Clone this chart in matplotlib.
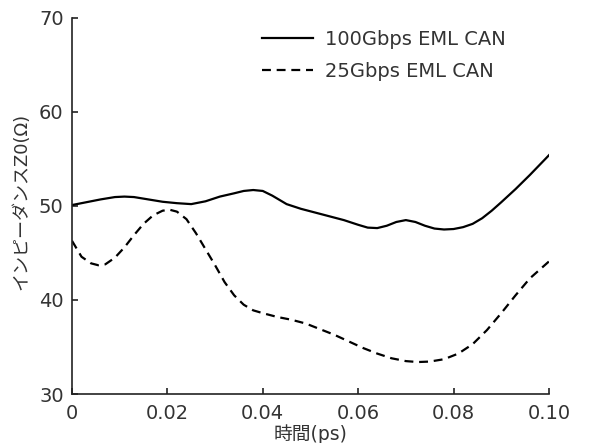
import matplotlib
matplotlib.use("Agg")
import matplotlib.pyplot as plt

plt.rcParams['font.family'] = ['DejaVu Sans', 'Noto Sans CJK JP']

# 100Gbps EML CAN (solid)
t_100g = [0.0, 0.003, 0.006, 0.009, 0.011, 0.013, 0.016, 0.019, 0.022, 0.025, 0.028,
          0.031, 0.034, 0.036, 0.038, 0.040, 0.042, 0.045, 0.048, 0.051, 0.054, 0.057,
          0.060, 0.062, 0.064, 0.066, 0.068, 0.070, 0.072, 0.074, 0.076, 0.078, 0.080,
          0.082, 0.084, 0.086, 0.088, 0.090, 0.093, 0.096, 0.100]
z_100g = [50.1, 50.4, 50.7, 50.95, 51.0, 50.95, 50.7, 50.45, 50.3, 50.2, 50.5,
          51.0, 51.35, 51.6, 51.7, 51.6, 51.1, 50.2, 49.7, 49.3, 48.9, 48.5,
          48.0, 47.7, 47.65, 47.9, 48.3, 48.5, 48.3, 47.9, 47.6, 47.5, 47.55,
          47.75, 48.1, 48.7, 49.5, 50.4, 51.8, 53.3, 55.4]

# 25Gbps EML CAN (dashed)
t_25g = [0.0, 0.002, 0.004, 0.0055, 0.007, 0.009, 0.011, 0.013, 0.015, 0.017, 0.019,
         0.0205, 0.022, 0.024, 0.026, 0.028, 0.030, 0.032, 0.034, 0.036, 0.038, 0.040,
         0.043, 0.046, 0.049, 0.052, 0.055, 0.058, 0.061, 0.064, 0.067, 0.070, 0.0725,
         0.075, 0.078, 0.081, 0.084, 0.087, 0.090, 0.093, 0.096, 0.100]
z_25g = [46.3, 44.6, 43.9, 43.7, 43.8, 44.5, 45.6, 46.9, 48.1, 49.0, 49.5,
         49.6, 49.4, 48.6, 47.1, 45.4, 43.7, 41.9, 40.5, 39.5, 38.9, 38.6,
         38.2, 37.9, 37.5, 36.9, 36.3, 35.6, 34.9, 34.3, 33.8, 33.5, 33.4,
         33.45, 33.7, 34.3, 35.3, 36.8, 38.6, 40.5, 42.3, 44.1]

ink = '#222222'
txt = '#333333'

fig = plt.figure(figsize=(5.89, 4.43), dpi=100)
ax = fig.add_axes([0.1222, 0.1106, 0.8098, 0.8488])

ax.plot(t_100g, z_100g, color='black', linewidth=1.6, label='100Gbps EML CAN')
ax.plot(t_25g, z_25g, color='black', linewidth=1.6, linestyle=(0, (4, 2.6)),
        label='25Gbps EML CAN')

ax.set_xlim(0, 0.10)
ax.set_ylim(30, 70)
ax.set_xticks([0, 0.02, 0.04, 0.06, 0.08, 0.10])
ax.set_xticklabels(['0', '0.02', '0.04', '0.06', '0.08', '0.10'])
ax.set_yticks([30, 40, 50, 60, 70])

for side in ['top', 'right']:
    ax.spines[side].set_visible(False)
for side in ['left', 'bottom']:
    ax.spines[side].set_color(ink)
    ax.spines[side].set_linewidth(1.2)

ax.tick_params(direction='in', length=4.5, width=1.2, color=ink,
               labelsize=14, labelcolor=txt)
ax.tick_params(axis='x', pad=7)
ax.tick_params(axis='y', pad=6)

ax.set_xlabel('時間(ps)', fontsize=13.5, color=txt, labelpad=1)
ax.set_ylabel('インピーダンスZ0(Ω)', fontsize=13, color=txt, labelpad=0)
ax.yaxis.set_label_coords(-0.088, 0.513)

ax.legend(loc='upper left', bbox_to_anchor=(262 / 589, 1 - 30 / 443),
          bbox_transform=fig.transFigure, frameon=False, fontsize=14,
          borderpad=0, borderaxespad=0, handlelength=2.63, handletextpad=0.62,
          labelspacing=0.65, labelcolor=txt)

fig.savefig('out.png', dpi=100)
